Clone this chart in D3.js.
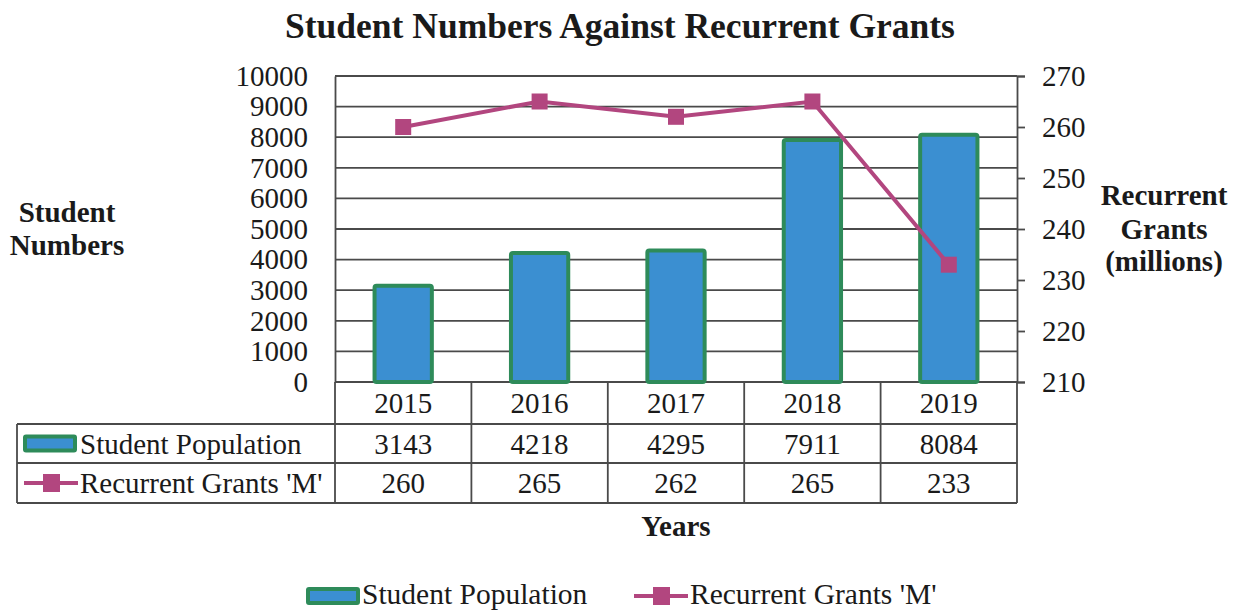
<!DOCTYPE html>
<html>
<head>
<meta charset="utf-8">
<script src="https://cdn.jsdelivr.net/npm/d3@7"></script>
<style>
  body { margin: 0; background: #fff; }
  svg text { font-family: "Liberation Serif", "Times New Roman", serif; fill: #1a1a1a; }
</style>
</head>
<body>
<svg id="chart"></svg>
<script>
// Data
const years = ["2015", "2016", "2017", "2018", "2019"];
const studentPopulation = [3143, 4218, 4295, 7911, 8084];
const recurrentGrants = [260, 265, 262, 265, 233];
const leftTicks = [0, 1000, 2000, 3000, 4000, 5000, 6000, 7000, 8000, 9000, 10000];
const rightTicks = [210, 220, 230, 240, 250, 260, 270];

const width = 1240;
const height = 611;
const plot = { left: 335, right: 1017, top: 76, bottom: 382 };
const tableLeft = 17;
const rowH = [42, 39, 40];
const fs = 29;

const barFill = "#3b8fd1";
const barStroke = "#2e8b5a";
const lineColor = "#b2467f";
const gridColor = "#4a4a4a";

let svg = d3.select("#chart").attr("width", width).attr("height", height);

// Scales
let xScale = d3.scaleBand().domain(years).range([plot.left, plot.right]);
let yLeft = d3.scaleLinear().domain([0, 10000]).range([plot.bottom, plot.top]);
let yRight = d3.scaleLinear().domain([210, 270]).range([plot.bottom, plot.top]);

// Title
svg.append("text")
  .attr("x", 620).attr("y", 38)
  .attr("text-anchor", "middle")
  .attr("font-size", 35.5).attr("font-weight", "bold")
  .text("Student Numbers Against Recurrent Grants");

// gridlines
svg.append("g")
  .selectAll("line")
  .data(leftTicks)
  .enter().append("line")
  .attr("x1", plot.left).attr("x2", plot.right)
  .attr("y1", d => yLeft(d)).attr("y2", d => yLeft(d))
  .attr("stroke", gridColor).attr("stroke-width", 1.8);

// left axis
let leftAxis = svg.append("g")
  .attr("transform", "translate(" + plot.left + ",0)")
  .call(d3.axisLeft(yLeft).tickValues(leftTicks).tickSize(0).tickPadding(27).tickFormat(d3.format("d")));
leftAxis.select(".domain").attr("stroke", gridColor).attr("stroke-width", 1.8);
leftAxis.selectAll("text").attr("font-size", fs).attr("fill", "#1a1a1a");

// right axis
let rightAxis = svg.append("g")
  .attr("transform", "translate(" + plot.right + ",0)")
  .call(d3.axisRight(yRight).tickValues(rightTicks).tickSize(8).tickPadding(17));
rightAxis.select(".domain").attr("stroke", gridColor).attr("stroke-width", 1.8);
rightAxis.selectAll("line").attr("stroke", gridColor).attr("stroke-width", 1.8);
rightAxis.selectAll("text").attr("font-size", fs).attr("fill", "#1a1a1a");

// axis titles
let leftTitle = svg.append("text")
  .attr("x", 67).attr("y", 222)
  .attr("text-anchor", "middle")
  .attr("font-size", fs).attr("font-weight", "bold");
leftTitle.append("tspan").attr("x", 67).attr("dy", 0).text("Student");
leftTitle.append("tspan").attr("x", 67).attr("dy", 33).text("Numbers");

let rightTitle = svg.append("text")
  .attr("x", 1164).attr("y", 205)
  .attr("text-anchor", "middle")
  .attr("font-size", fs).attr("font-weight", "bold");
rightTitle.append("tspan").attr("x", 1164).attr("dy", 0).text("Recurrent");
rightTitle.append("tspan").attr("x", 1164).attr("dy", 34).text("Grants");
rightTitle.append("tspan").attr("x", 1164).attr("dy", 32).text("(millions)");

// bars
const barW = xScale.bandwidth() * 0.42;
svg.append("g")
  .selectAll("rect")
  .data(studentPopulation)
  .enter().append("rect")
  .attr("x", (d, i) => xScale(years[i]) + xScale.bandwidth() / 2 - barW / 2)
  .attr("y", d => yLeft(d))
  .attr("width", barW)
  .attr("height", d => plot.bottom - yLeft(d))
  .attr("fill", barFill)
  .attr("stroke", barStroke).attr("stroke-width", 4)
  .attr("rx", 2);

// line
let line = d3.line()
  .x((d, i) => xScale(years[i]) + xScale.bandwidth() / 2)
  .y(d => yRight(d));
svg.append("path")
  .datum(recurrentGrants)
  .attr("d", line)
  .attr("fill", "none")
  .attr("stroke", lineColor).attr("stroke-width", 4);
svg.append("g")
  .selectAll("rect")
  .data(recurrentGrants)
  .enter().append("rect")
  .attr("x", (d, i) => xScale(years[i]) + xScale.bandwidth() / 2 - 8)
  .attr("y", d => yRight(d) - 8)
  .attr("width", 16).attr("height", 16)
  .attr("fill", lineColor);

// data table
const y0 = plot.bottom;
const y1 = y0 + rowH[0];
const y2 = y1 + rowH[1];
const y3 = y2 + rowH[2];
let table = svg.append("g").attr("stroke", gridColor).attr("stroke-width", 1.8);
let bounds = years.map(d => xScale(d)).concat([plot.right]);
table.selectAll("line.v")
  .data(bounds)
  .enter().append("line")
  .attr("x1", d => d).attr("x2", d => d)
  .attr("y1", y0).attr("y2", y3);
table.append("line").attr("x1", tableLeft).attr("x2", tableLeft).attr("y1", y1).attr("y2", y3);
[y1, y2, y3].forEach(y => {
  table.append("line").attr("x1", tableLeft).attr("x2", plot.right).attr("y1", y).attr("y2", y);
});

function rowText(vals, yMid) {
  svg.append("g").selectAll("text")
    .data(vals)
    .enter().append("text")
    .attr("x", (d, i) => xScale(years[i]) + xScale.bandwidth() / 2)
    .attr("y", yMid + 10)
    .attr("text-anchor", "middle")
    .attr("font-size", fs)
    .text(d => d);
}
rowText(years, (y0 + y1) / 2);
rowText(studentPopulation, (y1 + y2) / 2);
rowText(recurrentGrants, (y2 + y3) / 2);

// legend keys
function barKey(x, y) {
  svg.append("rect").attr("x", x).attr("y", y - 7).attr("width", 50).attr("height", 14)
    .attr("fill", barFill).attr("stroke", barStroke).attr("stroke-width", 4).attr("rx", 1);
}
function lineKey(x, y) {
  svg.append("line").attr("x1", x).attr("x2", x + 54).attr("y1", y).attr("y2", y)
    .attr("stroke", lineColor).attr("stroke-width", 4);
  svg.append("rect").attr("x", x + 19).attr("y", y - 9).attr("width", 17).attr("height", 18)
    .attr("fill", lineColor);
}
barKey(25, (y1 + y2) / 2);
svg.append("text").attr("x", 80).attr("y", (y1 + y2) / 2 + 10).attr("font-size", fs).text("Student Population");
lineKey(24, (y2 + y3) / 2);
svg.append("text").attr("x", 80).attr("y", (y2 + y3) / 2 + 10).attr("font-size", fs).text("Recurrent Grants 'M'");

// x title
svg.append("text")
  .attr("x", (plot.left + plot.right) / 2).attr("y", 536)
  .attr("text-anchor", "middle")
  .attr("font-size", fs).attr("font-weight", "bold")
  .text("Years");

// bottom legend
barKey(308, 596);
svg.append("text").attr("x", 362).attr("y", 604).attr("font-size", 29.5).text("Student Population");
lineKey(634, 596);
svg.append("text").attr("x", 690).attr("y", 604).attr("font-size", 29.5).text("Recurrent Grants 'M'");
</script>
</body>
</html>
